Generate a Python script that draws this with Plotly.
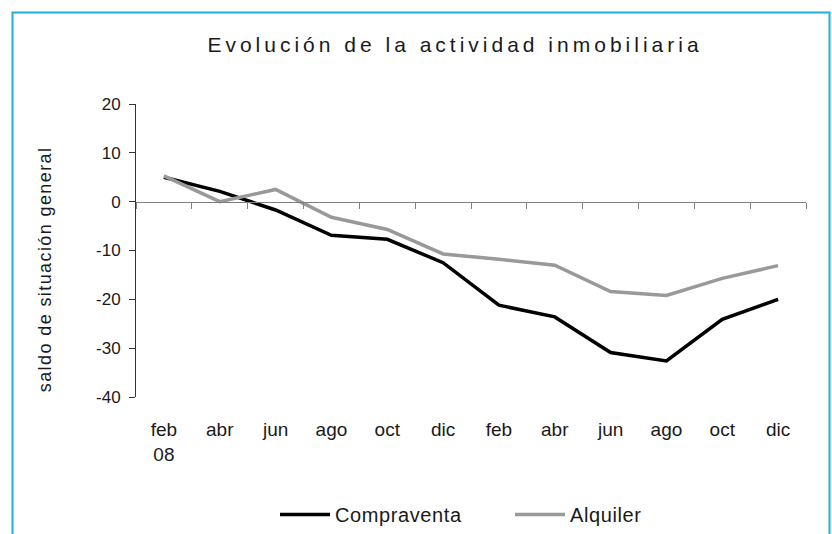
import plotly.graph_objects as go

# ---- data ----
tick_labels = ["feb<br>08", "abr", "jun", "ago", "oct", "dic",
               "feb", "abr", "jun", "ago", "oct", "dic"]
compraventa = [5.0, 2.1, -1.7, -6.9, -7.7, -12.5, -21.2, -23.6, -30.9, -32.6, -24.1, -20.0]
alquiler = [5.3, 0.0, 2.5, -3.2, -5.7, -10.7, -11.8, -13.0, -18.4, -19.2, -15.7, -13.1]
y_range = [-40, 20]
y_ticks = [20, 10, 0, -10, -20, -30, -40]
y_tick_labels = ["20", "10", "0", "-10", "-20", "-30", "-40"]
y_title = "saldo de situación general"
chart_title = "Evolución de la actividad inmobiliaria"

n = len(tick_labels)
xs = list(range(n))
FONT = "Liberation Sans, Arial, sans-serif"
TXT = "#1a1a1a"

W, H = 832, 534
L, R, T, B = 136, 26, 104, 137
PW, PH = W - L - R, H - T - B


def px_x(p):
    return (p - L) / PW


def px_y(p):
    return (H - B - p) / PH


fig = go.Figure()
fig.add_trace(go.Scatter(x=xs, y=compraventa, name="Compraventa", mode="lines",
                         line=dict(color="#000000", width=3.5)))
fig.add_trace(go.Scatter(x=xs, y=alquiler, name="Alquiler", mode="lines",
                         line=dict(color="#999999", width=3.5)))
# carrier for the zero-line axis (invisible)
fig.add_trace(go.Scatter(x=xs, y=compraventa, xaxis="x2", mode="lines", opacity=0,
                         showlegend=False, hoverinfo="skip"))

zero_pos = (0 - y_range[0]) / (y_range[1] - y_range[0])

fig.update_layout(
    width=W, height=H,
    margin=dict(l=L, r=R, t=T, b=B, autoexpand=False),
    paper_bgcolor="white", plot_bgcolor="white",
    font=dict(family=FONT, color=TXT, size=18),
    title=dict(text=chart_title,
               font=dict(size=21, color=TXT),
               x=455 / W, xref="container", xanchor="center",
               y=1 - 45 / H, yref="container", yanchor="middle"),
    xaxis=dict(range=[-0.5, n - 0.5], tickmode="array", tickvals=xs, ticktext=tick_labels,
               showline=False, ticks="", showgrid=False, zeroline=False, automargin=False,
               tickfont=dict(size=19), ticklabelstandoff=19),
    xaxis2=dict(range=[-0.5, n - 0.5], overlaying="x", anchor="free", position=zero_pos,
                tickmode="array", tickvals=[i - 0.5 for i in range(n + 1)],
                showticklabels=False, showline=True, linecolor="#7f7f7f", linewidth=1,
                ticks="outside", ticklen=6, tickcolor="#7f7f7f", tickwidth=1,
                showgrid=False, zeroline=False, automargin=False),
    yaxis=dict(range=y_range, tickmode="array", tickvals=y_ticks, ticktext=y_tick_labels,
               showline=True, linecolor="#333333", linewidth=1,
               ticks="outside", ticklen=6, tickcolor="#333333", showgrid=False, zeroline=False,
               automargin=False, tickfont=dict(size=17), ticklabelstandoff=5),
    legend=dict(orientation="h", x=px_x(275), xanchor="left", y=px_y(495), yanchor="top",
                font=dict(size=20), bgcolor="rgba(0,0,0,0)", itemwidth=50,
                entrywidth=170),
    showlegend=True,
    annotations=[dict(text=y_title, textangle=-90, xref="paper", yref="paper",
                      x=px_x(45), y=px_y(270), xanchor="center", yanchor="middle",
                      showarrow=False, font=dict(size=18, color=TXT))],
    shapes=[dict(type="rect", xref="paper", yref="paper",
                 x0=px_x(12.5), x1=px_x(829.5),
                 y0=px_y(560), y1=px_y(12.5),
                 line=dict(color="#1eb0d8", width=2), fillcolor="rgba(0,0,0,0)", layer="below")],
)

post = """
document.body.style.margin = '0';
var gd = document.getElementById('{plot_id}');
function ls(){
  gd.querySelectorAll('.gtitle').forEach(function(e){e.style.letterSpacing='4px';});
  gd.querySelectorAll('.legendtext').forEach(function(e){e.style.letterSpacing='0.6px';});
  gd.querySelectorAll('.annotation-text').forEach(function(e){e.style.letterSpacing='1.4px';});
}
ls(); gd.on('plotly_afterplot', ls);
"""
fig.write_html("out.html", post_script=post, config={"displayModeBar": False})
